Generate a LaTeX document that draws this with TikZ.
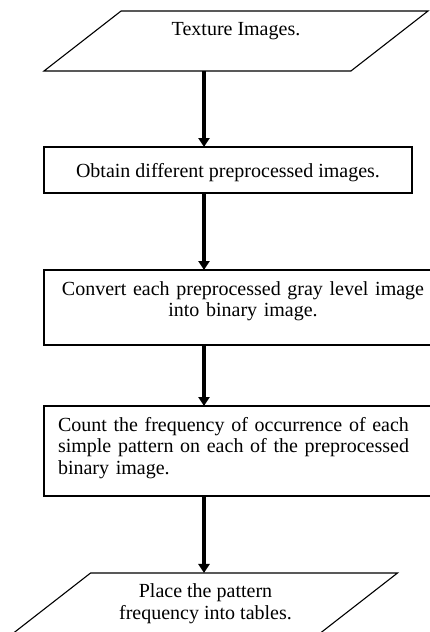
\documentclass[tikz,border=0pt]{standalone}
\usepackage{fontspec}
\setmainfont{Liberation Serif}
\usetikzlibrary{shapes.geometric,arrows.meta}
\begin{document}
\begin{tikzpicture}[x=1pt,y=1pt,
  every node/.style={font=\fontsize{20}{21.5}\selectfont, inner sep=0pt, outer sep=0pt},
  stepbox/.style={draw, line width=1.1pt, rectangle, anchor=north west},
  iobox/.style={draw, line width=1.1pt, trapezium,
    trapezium left angle=37.9, trapezium right angle=142.1,
    trapezium stretches body, minimum height=60pt, minimum width=384pt},
  flow/.style={line width=3.3pt, -{Triangle[width=11pt,length=9pt]}}
]
\useasboundingbox (0,0) rectangle (430,-632);
\fill[white] (0,0) rectangle (430,-632);

% vertical line on which all the arrows run
\coordinate (ax) at (204,0);

% input
\node[iobox, text height=24pt, text depth=36pt] (io1) at (236,-41) {Texture Images.};

% processing steps
\node[stepbox, minimum width=368pt, minimum height=46pt,
      text height=30pt, text depth=16pt] (b2) at (44,-147)
  {Obtain different preprocessed images.};
\node[stepbox, minimum width=398pt, minimum height=75pt,
      text width=370pt, align=center, inner xsep=14pt,
      text height=25pt, text depth=50pt] (b3) at (44,-270)
  {Convert each preprocessed gray level image\\ into binary image.};
\node[stepbox, minimum width=398pt, minimum height=90pt,
      text width=370pt, align=left, inner xsep=14pt,
      text height=25pt, text depth=65pt] (b4) at (44,-406)
  {Count the frequency of occurrence of each\\ simple pattern on each of the preprocessed\\ binary image.};

% output (baseline of the last line sets the text height here)
\node[iobox, align=center, text height=46pt, text depth=14pt] (io2) at (205.5,-603)
  {Place the pattern\\ frequency into tables.};

% connectors
\draw[flow] (io1.south -| ax) -- (b2.north -| ax);
\draw[flow] (b2.south -| ax) -- (b3.north -| ax);
\draw[flow] (b3.south -| ax) -- (b4.north -| ax);
\draw[flow] (b4.south -| ax) -- (io2.north -| ax);
\end{tikzpicture}
\end{document}
